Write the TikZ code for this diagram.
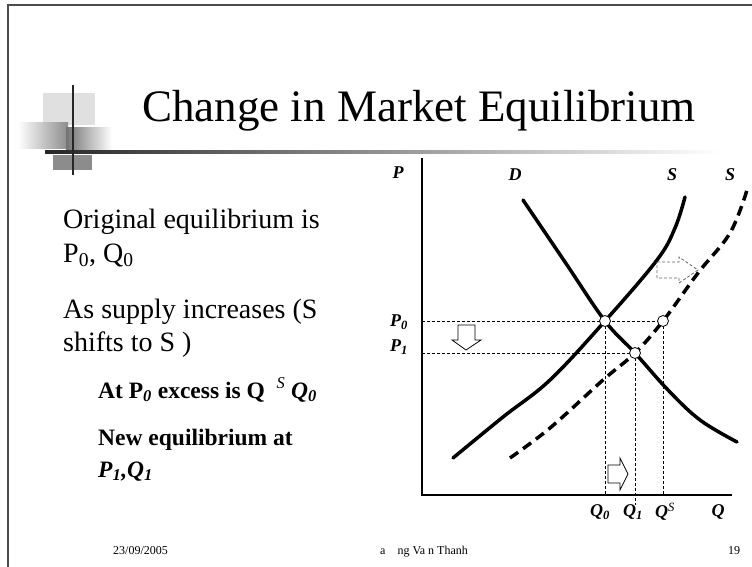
\documentclass[tikz,border=0pt]{standalone}
\usepackage{fontspec}
\setmainfont{Liberation Serif}
\begin{document}
\begin{tikzpicture}[x=1pt,y=-1pt,
  curve/.style={line width=3.5pt, line cap=round},
  guide/.style={densely dashed, line width=0.8pt},
  dot/.style={circle, draw, fill=white, inner sep=0pt, minimum size=11pt, line width=0.8pt},
  glab/.style={font=\fontsize{18}{18}\selectfont\bfseries\itshape, inner sep=0pt},
  body/.style={font=\fontsize{28}{34}\selectfont, anchor=base west, inner sep=0pt},
  subt/.style={font=\fontsize{23.5}{28}\selectfont\bfseries, anchor=base west, inner sep=0pt},
  foot/.style={font=\fontsize{12}{12}\selectfont, anchor=base west, inner sep=0pt},
  hollow/.style={line width=0.8pt}]
\useasboundingbox (0,0) rectangle (752,567);
\fill[white] (0,0) rectangle (752,567);
% frame
\draw[line width=2pt, black!70] (8,567) -- (8,5.5) -- (752,5.5);
% decoration
\fill[black!12] (43,93) rectangle (95,125);
\shade[left color=white, right color=black!45] (18,123) rectangle (68,148);
\shade[left color=black!55, right color=white] (66,128) rectangle (112,150);
\fill[black!45] (53,155) rectangle (92,170);
\shade[left color=black!85, right color=white] (45,150.8) rectangle (720,153.2);
\draw[line width=2.2pt, black!85] (73,85) -- (73,175);
% title
\node[anchor=base west, inner sep=0pt, font=\fontsize{45}{45}\selectfont] (title) at (142,122) {Change in Market Equilibrium};
% left text
\node[body] (t1) at (63,228) {Original equilibrium is};
\node[body] (t2) at (63,262) {P\textsubscript{0}, Q\textsubscript{0}};
\node[body] (t3) at (63,318) {As supply increases (S};
\node[body] (t4) at (63,351) {shifts to S )};
\node[subt] (t5) at (98,398) {At P\textsubscript{\itshape 0} excess is Q \ \textsuperscript{\mdseries\itshape S} \textit{Q}\textsubscript{\itshape 0}};
\node[subt] (t6) at (98,445) {New equilibrium at};
\node[subt] (t7) at (98,477) {\itshape P\textsubscript{1},Q\textsubscript{1}};
% footer
\node[foot] (date) at (113,554) {23/09/2005};
\node[foot] (auth) at (380,554) {a\quad ng Va n Thanh};
\node[foot] (page) at (728,554) {19};
% axes
\coordinate (O) at (422,495);
\coordinate (ytop) at (422,158);
\coordinate (xend) at (732,495);
\draw[line width=1.2pt] (ytop) -- (O) -- (xend);
% points
\coordinate (E0) at (605,321);
\coordinate (E1) at (635,353);
\coordinate (E2) at (663,321);
\coordinate (p0) at (422,321);
\coordinate (p1) at (422,353);
\coordinate (q0) at (605,495);
\coordinate (q1) at (635,505);
\coordinate (qs) at (663,495);
\draw[guide] (p0) -- (E2);
\draw[guide] (p1) -- (E1);
\draw[guide] (E0) -- (q0);
\draw[guide] (E1) -- (q1);
\draw[guide] (E2) -- (qs);
% curves
\draw[curve] plot[smooth, tension=0.6] coordinates {(523,200) (565,262) (605,321) (635,353) (668,390) (700,420) (737,442)};
\draw[curve] plot[smooth, tension=0.6] coordinates {(453,458) (503,417) (550,380) (605,321) (657,260) (675,228) (685,197)};
\draw[curve, line cap=butt, dash pattern=on 10pt off 6pt] plot[smooth, tension=0.6] coordinates {(510,458) (550,428) (603,380) (635,353) (663,321) (698,273) (730,233) (747,190)};
\node[dot] (e0) at (E0) {};
\node[dot] (e1) at (E1) {};
\node[dot] (e2) at (E2) {};
% hollow arrows
\draw[hollow] (458,325) -- (475,325) -- (475,340) -- (481,340) -- (466,350) -- (452,340) -- (458,340) -- cycle;
\draw[hollow, densely dashed, black!60] (657,262) -- (679,262) -- (679,257) -- (698,270) -- (679,283) -- (679,278) -- (657,278) -- cycle;
\draw[hollow] (608,465) -- (620,465) -- (620,458) -- (628,474) -- (620,490) -- (620,483) -- (608,483) -- cycle;
% labels
\node[glab] (lP) at (398,173) {P};
\node[glab] (lD) at (515,175) {D};
\node[glab] (lS) at (672,175) {S};
\node[glab] (lS2) at (730,175) {S};
\node[glab] (lP0) at (399,322) {P\textsubscript{0}};
\node[glab] (lP1) at (399,347) {P\textsubscript{1}};
\node[glab] (lQ0) at (600,512) {Q\textsubscript{0}};
\node[glab] (lQ1) at (633,512) {Q\textsubscript{1}};
\node[glab] (lQS) at (665,512) {Q\textsuperscript{\mdseries S}};
\node[glab] (lQ) at (718,512) {Q};
\end{tikzpicture}
\end{document}
